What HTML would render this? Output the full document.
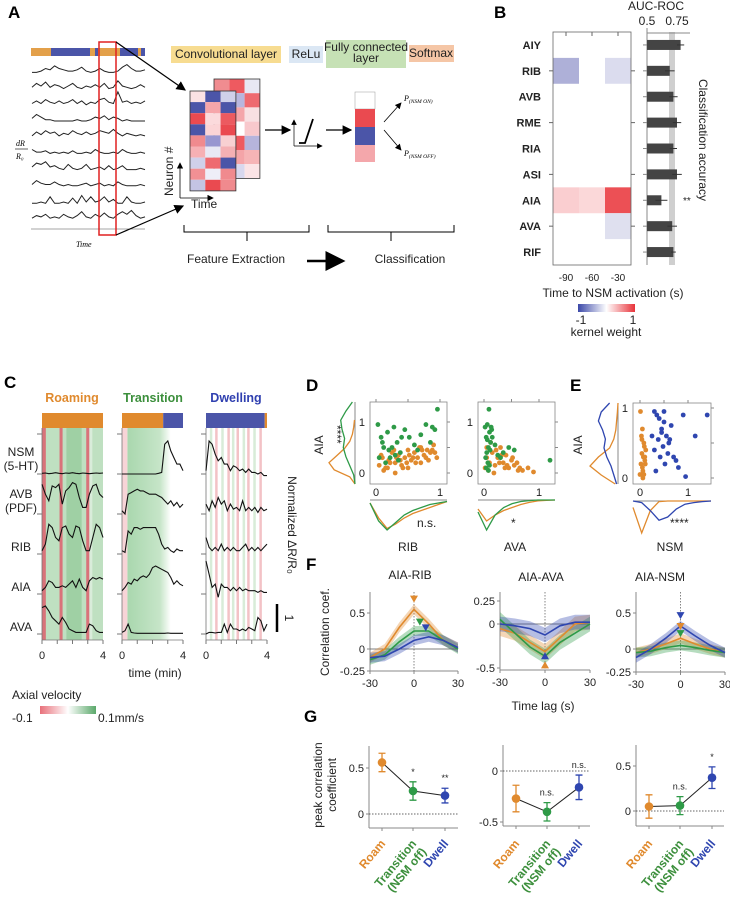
<!DOCTYPE html>
<html><head><meta charset="utf-8">
<style>
body{margin:0;background:#fff;}
svg{display:block;font-family:"Liberation Sans",Arial,sans-serif;}
.pl{font-weight:bold;font-size:17px;}
.t{font-size:12px;fill:#222;}
.s{font-size:11px;fill:#222;}
</style></head>
<body>
<svg id="fig" width="730" height="901" viewBox="0 0 730 901" xmlns="http://www.w3.org/2000/svg">
<defs>
<linearGradient id="kw" x1="0" x2="1"><stop offset="0" stop-color="#3b48a8"/><stop offset="0.5" stop-color="#fff"/><stop offset="1" stop-color="#e8333a"/></linearGradient>
<linearGradient id="av" x1="0" x2="1"><stop offset="0" stop-color="#e8707a"/><stop offset="0.5" stop-color="#fff"/><stop offset="1" stop-color="#5aa86a"/></linearGradient>
<linearGradient id="trg" x1="0" x2="1"><stop offset="0" stop-color="#a9d7ae"/><stop offset="0.75" stop-color="#c6e5c8"/><stop offset="1" stop-color="#fff"/></linearGradient>
<marker id="ah" markerWidth="8" markerHeight="8" refX="7" refY="4" orient="auto"><path d="M0,0 L8,4 L0,8 z" fill="#000"/></marker>
</defs>

<text class="pl" x="8" y="18">A</text>
<text class="pl" x="494" y="18">B</text>
<text class="pl" x="4" y="388">C</text>
<text class="pl" x="306" y="391">D</text>
<text class="pl" x="570" y="391">E</text>
<text class="pl" x="306" y="570">F</text>
<text class="pl" x="304" y="722">G</text>

<g>
<g id="aTraces"></g>
<rect x="31" y="48" width="114" height="8" fill="#e3a04a"/>
<rect x="51" y="48" width="39" height="8" fill="#4b55a8"/>
<rect x="95" y="48" width="3" height="8" fill="#4b55a8"/>
<rect x="120" y="48" width="18" height="8" fill="#4b55a8"/>
<rect x="141" y="48" width="4" height="8" fill="#4b55a8"/>
<line x1="31" y1="229" x2="145" y2="229" stroke="#888" stroke-width="0.8"/>
<rect x="99" y="42" width="17" height="193" fill="none" stroke="#e02020" stroke-width="1.5"/>
<line x1="116" y1="42" x2="185" y2="90" stroke="#000" stroke-width="1.2" marker-end="url(#ah)"/>
<line x1="116" y1="235" x2="183" y2="206" stroke="#000" stroke-width="1.2" marker-end="url(#ah)"/>
<text x="76" y="247" font-size="8" font-style="italic" font-family="Liberation Serif">Time</text>
<text x="16" y="146" font-size="8" font-style="italic" font-family="Liberation Serif">dR</text>
<line x1="15" y1="149" x2="28" y2="149" stroke="#000" stroke-width="0.6"/>
<text x="16" y="159" font-size="8" font-style="italic" font-family="Liberation Serif">R₀</text>
<rect x="171" y="46" width="110" height="17" fill="#f7dc91"/>
<text x="226" y="58" font-size="8" text-anchor="middle" class="t">Convolutional layer</text>
<rect x="289" y="46" width="34" height="17" fill="#dbe7f4"/>
<text x="306" y="58" font-size="8" text-anchor="middle" class="t">ReLu</text>
<rect x="326" y="40" width="80" height="28" fill="#c6e1b5"/>
<text x="366" y="51" font-size="7.5" text-anchor="middle" class="t">Fully connected</text>
<text x="366" y="62" font-size="7.5" text-anchor="middle" class="t">layer</text>
<rect x="409" y="45" width="45" height="17" fill="#f5c6a6"/>
<text x="431" y="57" font-size="8" text-anchor="middle" class="t">Softmax</text>
<g id="mats"></g>
<line x1="180" y1="198" x2="180" y2="163" stroke="#000" stroke-width="0.8" marker-end="url(#ah)"/>
<line x1="180" y1="198" x2="213" y2="198" stroke="#000" stroke-width="0.8" marker-end="url(#ah)"/>
<text x="173" y="196" font-size="7" transform="rotate(-90 173 196)" class="t">Neuron #</text>
<text x="191" y="208" font-size="7" class="t">Time</text>
<line x1="265" y1="130" x2="290" y2="130" stroke="#000" stroke-width="1.2" marker-end="url(#ah)"/>
<g stroke="#000" fill="none">
<line x1="294" y1="146" x2="322" y2="146" stroke-width="0.7" marker-end="url(#ah)"/>
<line x1="294" y1="146" x2="294" y2="120" stroke-width="0.7" marker-end="url(#ah)"/>
<polyline points="299,143 305,143 313,119" stroke-width="1.8"/>
</g>
<line x1="326" y1="130" x2="351" y2="130" stroke="#000" stroke-width="1.2" marker-end="url(#ah)"/>
<g>
<rect x="355" y="92" width="20" height="17" fill="#fff" stroke="#999" stroke-width="0.5"/>
<rect x="355" y="109" width="20" height="18" fill="#ea4a50"/>
<rect x="355" y="127" width="20" height="18" fill="#4b55a8"/>
<rect x="355" y="145" width="20" height="17" fill="#f4a7ab"/>
</g>
<line x1="384" y1="122" x2="401" y2="103" stroke="#000" stroke-width="0.8" marker-end="url(#ah)"/>
<line x1="384" y1="130" x2="401" y2="150" stroke="#000" stroke-width="0.8" marker-end="url(#ah)"/>
<text x="404" y="101" font-size="8" font-style="italic" font-family="Liberation Serif">P<tspan font-size="5.5" dy="2">(NSM ON)</tspan></text>
<text x="404" y="156" font-size="8" font-style="italic" font-family="Liberation Serif">P<tspan font-size="5.5" dy="2">(NSM OFF)</tspan></text>
<path d="M184,225 v7 h125 v-7 M247,232 v9" stroke="#000" fill="none" stroke-width="1"/>
<path d="M328,225 v7 h126 v-7 M391,232 v9" stroke="#000" fill="none" stroke-width="1"/>
<text x="187" y="263" font-size="10" class="t">Feature Extraction</text>
<line x1="307" y1="261" x2="343" y2="261" stroke="#000" stroke-width="2.5" marker-end="url(#ah)"/>
<text x="410" y="263" font-size="10" text-anchor="middle" class="t">Classification</text>
</g>

<g id="panelB">
<text x="656" y="10" font-size="9" text-anchor="middle" class="t">AUC-ROC</text>
<text x="647" y="25" font-size="9" text-anchor="middle" class="t">0.5</text>
<text x="677" y="25" font-size="9" text-anchor="middle" class="t">0.75</text>
<text x="613" y="297" font-size="11" text-anchor="middle" class="t">Time to NSM activation (s)</text>
<text x="699" y="140" font-size="11" text-anchor="middle" transform="rotate(90 699 140)" class="t">Classification accuracy</text>
<rect x="578" y="304" width="57" height="8" fill="url(#kw)"/>
<text x="581" y="324" font-size="9" text-anchor="middle" class="t">-1</text>
<text x="633" y="324" font-size="9" text-anchor="middle" class="t">1</text>
<text x="606" y="336" font-size="10" text-anchor="middle" class="t">kernel weight</text>
</g>

<g id="panelC">
<text x="72" y="402" font-size="12.5" font-weight="bold" fill="#e08a2e" text-anchor="middle">Roaming</text>
<text x="153" y="402" font-size="12.5" font-weight="bold" fill="#3c8f3c" text-anchor="middle">Transition</text>
<text x="236" y="402" font-size="12.5" font-weight="bold" fill="#3040b0" text-anchor="middle">Dwelling</text>
<text x="21" y="456" font-size="10" text-anchor="middle" class="t">NSM</text>
<text x="21" y="470" font-size="10" text-anchor="middle" class="t">(5-HT)</text>
<text x="21" y="498" font-size="10" text-anchor="middle" class="t">AVB</text>
<text x="21" y="512" font-size="10" text-anchor="middle" class="t">(PDF)</text>
<text x="21" y="551" font-size="10" text-anchor="middle" class="t">RIB</text>
<text x="21" y="591" font-size="10" text-anchor="middle" class="t">AIA</text>
<text x="21" y="631" font-size="10" text-anchor="middle" class="t">AVA</text>
<text x="155" y="677" font-size="10" text-anchor="middle" class="t">time (min)</text>
<line x1="277" y1="604" x2="277" y2="632" stroke="#000" stroke-width="2.5"/>
<text x="285" y="618" font-size="10" transform="rotate(90 285 618)" text-anchor="middle" class="t">1</text>
<text x="288" y="525" font-size="11" text-anchor="middle" transform="rotate(90 288 525)" class="t">Normalized ΔR/R₀</text>
<text x="12" y="699" font-size="10" class="t">Axial velocity</text>
<rect x="40" y="706" width="56" height="8" fill="url(#av)"/>
<text x="12" y="722" font-size="9" class="t">-0.1</text>
<text x="98" y="722" font-size="9" class="t">0.1mm/s</text>
</g>

<g id="panelDE">
<text x="408" y="551" font-size="11" text-anchor="middle" class="t">RIB</text>
<text x="515" y="551" font-size="11" text-anchor="middle" class="t">AVA</text>
<text x="670" y="551" font-size="11" text-anchor="middle" class="t">NSM</text>
<text x="323" y="445" font-size="11" transform="rotate(-90 323 445)" text-anchor="middle" class="t">AIA</text>
<text x="582" y="445" font-size="11" transform="rotate(-90 582 445)" text-anchor="middle" class="t">AIA</text>
<text x="333" y="425" font-size="9" transform="rotate(90 333 425)" class="t">****</text>
<text x="417" y="527" font-size="9" class="t">n.s.</text>
<text x="511" y="527" font-size="9" class="t">*</text>
<text x="670" y="527" font-size="9" class="t">****</text>
</g>

<g id="panelF">
<text x="410" y="579" font-size="10.5" text-anchor="middle" class="t">AIA-RIB</text>
<text x="541" y="581" font-size="10.5" text-anchor="middle" class="t">AIA-AVA</text>
<text x="660" y="581" font-size="10.5" text-anchor="middle" class="t">AIA-NSM</text>
<text x="329" y="632" font-size="11" transform="rotate(-90 329 632)" text-anchor="middle" class="t">Correlation coef.</text>
<text x="543" y="710" font-size="11" text-anchor="middle" class="t">Time lag (s)</text>
</g>

<g id="panelG">
<text x="322" y="785" font-size="10" transform="rotate(-90 322 785)" text-anchor="middle" class="t">peak correlation</text>
<text x="336" y="785" font-size="10" transform="rotate(-90 336 785)" text-anchor="middle" class="t">coefficient</text>
</g>
</svg>

<script>
const NS="http://www.w3.org/2000/svg";
const svg=document.getElementById('fig');
function mk(tag,attrs,parent){const e=document.createElementNS(NS,tag);for(const k in attrs)e.setAttribute(k,attrs[k]);(parent||svg).appendChild(e);return e;}
function txt(x,y,s,attrs,parent){const e=mk('text',Object.assign({x:x,y:y,'font-size':10,fill:'#222'},attrs||{}),parent);e.textContent=s;return e;}
const OR="#e08a2e",GR="#2e9a47",BL="#2f46b0";

const aTraceData=[
[2,2,3,5,4,7,5,4,3,3,4,6,3,2,3,5,3,2,2,3,6,8,5,3,3,4],
[3,6,4,7,3,5,4,2,4,6,3,2,4,3,5,3,6,2,3,8,4,3,2,3,5,3],
[3,5,3,6,4,3,5,3,4,6,3,5,2,4,3,6,7,4,3,12,4,5,3,4,3,5],
[4,7,5,3,3,2,2,2,2,2,3,2,2,3,5,4,6,3,5,4,2,3,2,2,2,2],
[3,6,4,7,5,6,3,5,4,7,5,4,6,4,5,7,6,5,8,5,3,5,4,3,4,3],
[5,3,3,4,2,3,2,3,2,4,2,2,3,2,5,3,2,2,3,2,5,3,2,2,3,2],
[4,7,6,8,4,5,3,2,6,3,2,3,6,2,3,4,2,5,2,3,5,2,2,2,3,2],
[3,6,4,3,3,5,3,2,3,2,2,3,4,2,3,4,2,3,2,5,3,2,2,2,3,2],
[1,1,2,1,6,1,1,2,1,5,1,7,2,6,2,3,6,2,4,1,1,6,2,1,1,2],
[2,4,3,5,2,3,2,5,3,2,4,7,3,2,5,3,6,3,2,5,7,5,8,4,2,3]];
const aG=document.getElementById('aTraces');
aTraceData.forEach((arr,i)=>{
  const base=75+i*16.2;
  const pts=arr.map((v,j)=>(32+j*113/(arr.length-1)).toFixed(1)+','+(base-v*1.3).toFixed(1)).join(' ');
  const p=mk('polyline',{points:pts,fill:'none',stroke:'#222','stroke-width':1},aG);
  
  
});
const backMat=[["#f08c90","#ee5a60","#e8e8f4"],["#f6b0b4","#b8b6de","#ee6a70"],["#f6b6b8","#f4a6aa","#f8e0e2"],["#f8c8ca","#fff","#f8c8cc"],["#f4a4a8","#ee5a60","#b6b4dc"],["#f8c0c2","#f4a4a8","#f6b4b6"],["#f8d0d2","#d8d8ee","#fbe4e6"]];
const frontMat=[["#fbe2e4","#4b55a8","#d0d0ea"],["#4b55a8","#f6a6aa","#4b55a8"],["#ea4a50","#fbdadc","#ec5a60"],["#4b55a8","#fbd4d6","#ea4a50"],["#f08a8e","#9896d0","#f8d0d2"],["#f6b0b4","#e8e8f4","#f4b0b4"],["#d0d0ea","#ee6a70","#4b55a8"],["#f29094","#eeeef8","#f08a8e"],["#c4c4e4","#ea4a50","#f08a8e"]];
const mG=document.getElementById('mats');
function drawMat(m,x0,y0,cw,ch){
  m.forEach((row,r)=>row.forEach((c,k)=>{mk('rect',{x:x0+k*cw,y:y0+r*ch,width:cw,height:ch,fill:c},mG);}));
  mk('rect',{x:x0,y:y0,width:cw*3,height:ch*m.length,fill:'none',stroke:'#333','stroke-width':0.8},mG);
}
drawMat(backMat,214,79,15.3,14.2);
drawMat(frontMat,190,91,15.3,11.1);

const neurons=["AIY","RIB","AVB","RME","RIA","ASI","AIA","AVA","RIF"];
const lagLabels=["-90","-60","-30"];
const kernelRIB=[-0.45,0,-0.2];
const kernelAIA=[0.25,0.2,0.9];
const kernelAVA=[0,0,-0.18];
const kernelRows={RIB:kernelRIB,AIA:kernelAIA,AVA:kernelAVA};
const aucVals=[0.78,0.69,0.72,0.75,0.72,0.75,0.62,0.71,0.72];
const aucErr=[0.03,0.04,0.035,0.035,0.03,0.04,0.05,0.04,0.02];
const pB=document.getElementById('panelB');
const hx0=553,hx1=631,hy0=32,hy1=265;
const rowH=(hy1-hy0)/neurons.length, colW=(hx1-hx0)/3;
const rowY=i=>hy0+rowH*(i+0.5);
function kcol(v){const a=Math.abs(v);const t=[255,255,255];const c=v>0?[234,60,66]:[75,80,168];
 return 'rgb('+t.map((x,i)=>Math.round(x+(c[i]-x)*a)).join(',')+')';}
neurons.forEach((n,i)=>{
  const r=kernelRows[n];
  if(r) r.forEach((v,k)=>{if(v!==0){const c=mk('rect',{x:hx0+k*colW,y:hy0+rowH*i,width:colW,height:rowH,fill:kcol(v)},pB);}});
  const t=txt(hx0-12,rowY(i)+4,n,{'font-size':11,'font-weight':'bold','text-anchor':'end'},pB);
  
});
mk('rect',{x:hx0,y:hy0,width:hx1-hx0,height:hy1-hy0,fill:'none',stroke:'#666','stroke-width':0.8},pB);
[1,3,5,7].forEach(i=>{mk('line',{x1:hx0-4,x2:hx0,y1:rowY(i),y2:rowY(i),stroke:'#666'},pB);mk('line',{x1:hx1,x2:hx1+4,y1:rowY(i),y2:rowY(i),stroke:'#666'},pB);});
lagLabels.forEach((l,k)=>{const x=hx0+colW*(k+0.5);mk('line',{x1:x,x2:x,y1:hy0,y2:hy0+4,stroke:'#666'},pB);txt(x,281,l,{'font-size':10,'text-anchor':'middle'},pB);});
const aucX=v=>647+(v-0.5)*120;
mk('rect',{x:669,y:32,width:6,height:233,fill:'#cfcfcf'},pB);
mk('line',{x1:647,x2:690,y1:33,y2:33,stroke:'#888'},pB);
mk('line',{x1:647,x2:647,y1:28,y2:265,stroke:'#888'},pB);
aucVals.forEach((v,i)=>{
  const y=rowY(i);
  const b=mk('rect',{x:647,y:y-5,width:aucX(v)-647,height:10,fill:'#444'},pB);
  
  mk('line',{x1:aucX(v-aucErr[i]),x2:aucX(v+aucErr[i]),y1:y,y2:y,stroke:'#333','stroke-width':1},pB);
  mk('line',{x1:643,x2:647,y1:y,y2:y,stroke:'#888'},pB);
});
txt(683,204,"**",{'font-size':10},pB);

const traceNames=["NSM","AVB","RIB","AIA","AVA"];
const roamTraces=[
[0.02,0.03,0.01,0.02,0.04,0.02,0.01,0.03,0.02,0.04,0.02,0.01,0.03,0.02,0.01,0.02,0.03,0.02,0.03],
[0.9,0.6,0.4,0.85,0.8,0.9,0.3,0.7,0.8,0.95,0.9,0.5,0.2,0.2,0.6,0.85,0.9,0.6,0.5],
[0.1,0.3,0.9,0.8,0.5,0.4,0.8,0.85,0.6,0.5,0.85,0.8,0.4,0.1,0.1,0.5,0.9,0.8,0.5],
[0.1,0.2,0.4,0.35,0.2,0.2,0.25,0.2,0.3,0.4,0.2,0.45,0.2,0.1,0.4,0.5,0.45,0.5,0.45],
[0.8,0.85,0.7,0.5,0.4,0.3,0.5,0.35,0.15,0.1,0.05,0.05,0.05,0.05,0.3,0.25,0.1,0.05,0.05]];
const transTraces=[
[0,0,0,0,0,0,0,0,0,0,0,0,0.02,0.05,0.9,1,0.7,0.5,0.3,0.3,0.1],
[0.1,0,0.6,0.65,0.7,0.75,0.7,0.7,0.65,0.6,0.6,0.6,0.55,0.5,0.4,0.3,0.4,0.25,0.35,0.2,0.3],
[0.1,0.05,0.7,0.6,0.8,0.8,0.75,0.8,0.8,0.8,0.8,0.8,0.6,0.3,0.15,0.2,0.1,0.05,0.15,0.1,0.1],
[0.1,0.2,0.35,0.3,0.45,0.4,0.5,0.55,0.5,0.6,0.8,0.85,0.8,0.75,0.7,0.65,0.5,0.3,0.4,0.3,0.25],
[0.05,0.1,0.3,0.05,0.03,0.02,0.02,0.02,0.02,0.02,0.02,0.02,0.02,0.02,0.02,0.03,0.02,0.02,0.02,0.02,0.02]];
const dwellTraces=[
[0.1,1,0.9,0.6,0.4,0.5,0.3,0.3,0.1,0.25,0.2,0.1,0.15,0.05,0.15,0.05,0.05,0.0,0.05,-0.05,-0.05],
[0.3,0.1,0.4,0.2,0.5,0.3,0.4,0.1,0.3,0.15,0.2,0.1,0.4,0.1,0.2,0.1,0.2,0.05,0.2,0.1,0.15],
[0.5,0.2,0.1,0.2,0.1,0.3,0.1,0.2,0.1,0.2,0.1,0.1,0.2,0.3,0.1,0.2,0.1,0.2,0.1,0.2,0.3],
[1,0.6,0.2,0.3,-0.1,0.3,0.2,0.2,0.1,0.2,0.1,0.2,0.1,0.15,0.1,0.1,0.1,0.05,0.1,0.05,0.05],
[0,0.05,0.05,0.03,0.05,0.05,0.3,0.05,0.3,0.15,0.15,0.1,0.15,0.1,0.2,0.15,0.1,0.5,0.4,0.1,0.3]];
const cPanels=[
 {x0:42,x1:103,tr:roamTraces,bars:[[0,4,OR]],bg:'roam'},
 {x0:122,x1:183,tr:transTraces,bars:[[0,2.7,OR],[2.7,4,'#4b55a8']],bg:'trans'},
 {x0:206,x1:267,tr:dwellTraces,bars:[[0,3.85,'#4b55a8'],[3.85,4,OR]],bg:'dwell'}];
const baselines=[474,514,554,594,634];
const pC=document.getElementById('panelC');
cPanels.forEach(p=>{
  const X=t=>p.x0+(p.x1-p.x0)*t/4;
  if(p.bg==='roam'){
    mk('rect',{x:p.x0,y:428,width:p.x1-p.x0,height:212,fill:'#bfe0c1'},pC);
    [[0.1,0.25,'#a8d4ab'],[1.6,2.6,'#9fd0a4'],[3,3.3,'#d9ecda']].forEach(s=>mk('rect',{x:X(s[0]),y:428,width:X(s[1])-X(s[0]),height:212,fill:s[2]},pC));
    [[0,0.25],[1.15,1.35],[2.9,3.1]].forEach(s=>mk('rect',{x:X(s[0]),y:428,width:X(s[1])-X(s[0]),height:212,fill:'#d9737a'},pC));
  } else if(p.bg==='trans'){
    mk('rect',{x:X(0.35),y:428,width:X(3.2)-X(0.35),height:212,fill:'url(#trg)'},pC);
    mk('rect',{x:X(0),y:428,width:X(0.35)-X(0),height:212,fill:'#f7d4d7'},pC);
  } else {
    [0.25,0.6,1.0,1.4,1.7,2.0,2.4,2.7,3.1,3.5].forEach((t,i)=>mk('rect',{x:X(t),y:428,width:2.5,height:212,fill:i%2?'#f3c2c6':'#d8ecd8'},pC));
  }
  p.bars.forEach(b=>mk('rect',{x:X(b[0]),y:413,width:X(b[1])-X(b[0]),height:15,fill:b[2]},pC));
  mk('line',{x1:p.x0,x2:p.x0,y1:428,y2:640,stroke:'#777','stroke-width':0.8},pC);
  [434].concat(baselines).forEach(y=>mk('line',{x1:p.x0-5,x2:p.x0,y1:y,y2:y,stroke:'#777'},pC));
  mk('line',{x1:p.x0,x2:p.x1,y1:640,y2:640,stroke:'#777','stroke-width':0.8},pC);
  [0,1,2,3,4].forEach(t=>mk('line',{x1:X(t),x2:X(t),y1:640,y2:644,stroke:'#777'},pC));
  txt(X(0),659,"0",{'font-size':11,'text-anchor':'middle'},pC);
  txt(X(4),659,"4",{'font-size':11,'text-anchor':'middle'},pC);
  p.tr.forEach((arr,k)=>{
    const pts=arr.map((v,j)=>X(4*j/(arr.length-1)).toFixed(1)+','+(baselines[k]-v*33).toFixed(1)).join(' ');
    const l=mk('polyline',{points:pts,fill:'none',stroke:'#111','stroke-width':1.1},pC);
    
    
  });
});

const pDE=document.getElementById('panelDE');
const ribOrangeX=[0.05,0.1,0.15,0.2,0.25,0.3,0.35,0.4,0.45,0.5,0.55,0.6,0.65,0.7,0.75,0.8,0.85,0.9,0.95,0.12,0.22,0.32,0.42,0.52,0.62,0.72,0.82,0.92,0.08,0.18,0.28,0.38,0.48,0.58,0.68,0.78,0.88,0.3,0.5,0.7];
const ribOrangeY=[0.15,0.3,0.1,0.25,0.4,0.2,0.35,0.15,0.3,0.45,0.25,0.4,0.3,0.5,0.35,0.45,0.4,0.55,0.3,0.05,0.2,0.3,0.1,0.35,0.2,0.45,0.25,0.4,0.35,0.1,0.45,0.25,0.2,0.3,0.5,0.3,0.45,0.0,0.1,0.2];
const ribGreenX=[0.03,0.08,0.12,0.18,0.22,0.28,0.33,0.38,0.45,0.52,0.6,0.7,0.78,0.85,0.92,0.96,0.05,0.15,0.25,0.35,0.1,0.2,0.3,0.4,0.65,0.88];
const ribGreenY=[0.95,0.7,0.5,0.8,0.3,0.9,0.6,0.4,0.85,0.7,0.55,0.75,0.95,0.6,0.85,1.25,0.3,0.2,0.5,0.25,0.6,0.45,0.35,0.7,0.45,0.9];
const avaOrangeX=[0.02,0.05,0.08,0.1,0.15,0.2,0.25,0.3,0.35,0.4,0.45,0.5,0.55,0.6,0.65,0.7,0.8,0.9,0.12,0.22,0.32,0.42,0.52,0.62,0.05,0.18,0.28,0.38];
const avaOrangeY=[0.1,0.3,0.05,0.2,0.4,0.15,0.3,0.5,0.2,0.35,0.1,0.25,0.15,0.2,0.1,0.05,0.1,0.02,0.6,0.45,0.35,0.15,0.3,0.05,0.5,0.0,0.2,0.1];
const avaGreenX=[0.02,0.04,0.06,0.08,0.1,0.12,0.14,0.03,0.05,0.07,0.09,0.11,0.15,0.2,0.25,0.3,0.06,0.1,0.13,0.35,0.45,0.55,1.2,0.08,0.04];
const avaGreenY=[0.9,0.7,0.95,0.5,0.8,0.6,0.85,0.3,0.4,0.2,1.25,0.45,0.7,0.55,0.35,0.3,0.65,0.15,0.9,0.4,0.5,0.45,0.25,0.05,0.1];
const nsmOrangeX=[0.0,0.02,0.04,0.06,0.08,0.1,0.12,0.03,0.05,0.07,0.09,0.11,0.01,0.05,0.08,0.04,0.1,0.06];
const nsmOrangeY=[0.05,0.2,0.35,0.1,0.5,0.25,0.4,0.6,0.15,0.3,0.45,0.2,0.95,0.7,0.05,0.55,0.3,0.0];
const nsmBlueX=[0.3,0.35,0.4,0.45,0.5,0.55,0.6,0.65,0.3,0.38,0.42,0.48,0.52,0.58,0.7,0.8,0.9,0.95,1.15,1.4,0.25,0.33,0.45,0.62,0.75,0.5];
const nsmBlueY=[0.95,0.9,0.85,0.7,0.8,0.6,0.5,0.75,0.4,0.55,0.3,0.45,0.2,0.35,0.3,0.15,0.9,0.02,0.6,0.9,0.6,0.1,0.65,0.55,0.25,0.95];
function scatter(box,ax,sets){
  mk('rect',{x:box.x,y:box.y,width:box.w,height:box.h,fill:'none',stroke:'#888','stroke-width':0.8},pDE);
  const X=v=>ax.x0+(ax.x1-ax.x0)*v, Y=v=>ax.y0-(ax.y0-ax.y1)*v;
  sets.forEach(s=>s.x.forEach((v,i)=>{const c=mk('circle',{cx:X(v),cy:Y(s.y[i]),r:2.4,fill:s.c},pDE);}));
  txt(X(0),box.y+box.h+12,"0",{'font-size':11,'text-anchor':'middle'},pDE);
  txt(X(1),box.y+box.h+12,"1",{'font-size':11,'text-anchor':'middle'},pDE);
  txt(box.x-5,Y(0)+4,"0",{'font-size':11,'text-anchor':'end'},pDE);
  txt(box.x-5,Y(1)+4,"1",{'font-size':11,'text-anchor':'end'},pDE);
  [0,0.5,1].forEach(v=>{mk('line',{x1:X(v),x2:X(v),y1:box.y-3,y2:box.y,stroke:'#888'},pDE);mk('line',{x1:box.x+box.w,x2:box.x+box.w+3,y1:Y(v),y2:Y(v),stroke:'#888'},pDE);});
}
scatter({x:370,y:402,w:77,h:82},{x0:376,x1:440,y0:473,y1:422},[{x:ribOrangeX,y:ribOrangeY,c:OR},{x:ribGreenX,y:ribGreenY,c:GR}]);
scatter({x:478,y:402,w:77,h:82},{x0:484,x1:539,y0:473,y1:422},[{x:avaOrangeX,y:avaOrangeY,c:OR},{x:avaGreenX,y:avaGreenY,c:GR}]);
scatter({x:633,y:403,w:78,h:81},{x0:640,x1:688,y0:478,y1:408},[{x:nsmOrangeX,y:nsmOrangeY,c:OR},{x:nsmBlueX,y:nsmBlueY,c:BL}]);
const ribAIAOr=[0,0.2,0.8,1,0.7,0.4,0.2,0.1,0.05,0.02];
const ribAIAGr=[0,0.05,0.2,0.35,0.45,0.4,0.5,0.55,0.35,0.1];
const ribOr=[0.1,0.6,0.95,0.8,0.6,0.45,0.35,0.25,0.15,0.05];
const ribGr=[0.1,0.7,1,0.75,0.5,0.35,0.25,0.15,0.1,0.05];
const avaOr=[0.3,0.7,0.5,0.35,0.25,0.15,0.08,0.03,0.01,0];
const avaGr=[0.4,1,0.5,0.25,0.12,0.05,0.02,0,0,0];
const nsmAIAOr=[0.1,0.6,1,0.7,0.3,0.15,0.08,0.05,0.02,0];
const nsmAIABl=[0.05,0.15,0.25,0.4,0.5,0.45,0.55,0.7,0.6,0.3];
const nsmOr=[0.2,1,0.3,0.02,0,0,0,0,0,0];
const nsmBl=[0,0.05,0.3,0.6,0.5,0.25,0.1,0.05,0.02,0];
function vDens(arr,x,y0,y1,amp,c){const pts=arr.map((v,i)=>(x-v*amp).toFixed(1)+','+(y0+(y1-y0)*i/(arr.length-1)).toFixed(1)).join(' ');const l=mk('polyline',{points:pts,fill:'none',stroke:c,'stroke-width':1.3},pDE);}
function hDens(arr,y,x0,x1,amp,c){const pts=arr.map((v,i)=>(x0+(x1-x0)*i/(arr.length-1)).toFixed(1)+','+(y+v*amp).toFixed(1)).join(' ');const l=mk('polyline',{points:pts,fill:'none',stroke:c,'stroke-width':1.3},pDE);}
mk('line',{x1:355,x2:355,y1:402,y2:484,stroke:'#888'},pDE);
vDens(ribAIAOr,355,484,420,26,OR);vDens(ribAIAGr,355,484,402,26,GR);
mk('line',{x1:370,x2:447,y1:500,y2:500,stroke:'#888'},pDE);
hDens(ribOr,500,370,447,30,OR);hDens(ribGr,500,370,447,30,GR);
mk('line',{x1:478,x2:555,y1:500,y2:500,stroke:'#888'},pDE);
hDens(avaOr,500,478,555,30,OR);hDens(avaGr,500,478,555,30,GR);
mk('line',{x1:618,x2:618,y1:403,y2:484,stroke:'#888'},pDE);
vDens(nsmAIAOr,618,484,403,28,OR);vDens(nsmAIABl,618,484,403,28,BL);
mk('line',{x1:633,x2:711,y1:501,y2:501,stroke:'#888'},pDE);
hDens(nsmOr,501,633,711,32,OR);hDens(nsmBl,501,633,711,32,BL);

const lags=[-30,-20,-10,0,10,20,30];
const ribOrange=[-0.12,0.0,0.3,0.55,0.35,0.12,0.02];
const ribGreen=[-0.15,-0.08,0.1,0.25,0.25,0.12,0.0];
const ribBlue=[-0.12,-0.1,0.0,0.12,0.17,0.12,0.02];
const avaOrangeF=[-0.05,-0.1,-0.2,-0.3,-0.15,0.0,0.02];
const avaGreenF=[0.05,-0.1,-0.25,-0.35,-0.2,-0.1,0.0];
const avaBlueF=[0,-0.02,-0.05,-0.12,-0.02,0.02,0.02];
const nsmOrangeF=[-0.05,0,0.07,0.15,0.07,0,-0.05];
const nsmGreenF=[-0.05,-0.03,0.02,0.05,0.02,-0.02,-0.05];
const nsmBlueF=[-0.12,0.0,0.15,0.32,0.18,0.05,-0.05];
const fPeaks=[
 [[0,0.7,OR,'down'],[4,0.38,GR,'down'],[8,0.3,BL,'down']],
 [[0,-0.45,OR,'up'],[0,-0.35,BL,'up']],
 [[0,0.47,BL,'down'],[0,0.32,OR,'down'],[0,0.22,GR,'down']]];
const pF=document.getElementById('panelF');
const fPlots=[
 {x0:370,x1:458,yTop:592,yBot:671,ticks:[[0.5,613],[0,649],[-0.25,671]],lab:["0.5","0","-0.25"],s:[[ribOrange,OR],[ribGreen,GR],[ribBlue,BL]],band:0.07},
 {x0:500,x1:590,yTop:592,yBot:670,ticks:[[0.25,601],[0,624],[-0.5,668]],lab:["0.25","0","-0.5"],s:[[avaOrangeF,OR],[avaGreenF,GR],[avaBlueF,BL]],band:0.08},
 {x0:636,x1:725,yTop:592,yBot:672,ticks:[[0.5,613],[0,649],[-0.25,672]],lab:["0.5","0","-0.25"],s:[[nsmOrangeF,OR],[nsmGreenF,GR],[nsmBlueF,BL]],band:0.07}];
fPlots.forEach((p,pi)=>{
  const t=p.ticks, k=(t[0][1]-t[1][1])/(t[0][0]-t[1][0]);
  const Y=v=>t[1][1]+(v-t[1][0])*k, X=l=>p.x0+(p.x1-p.x0)*(l+30)/60;
  mk('line',{x1:p.x0,x2:p.x0,y1:p.yTop,y2:p.yBot,stroke:'#888'},pF);
  mk('line',{x1:p.x0,x2:p.x1,y1:p.yBot,y2:p.yBot,stroke:'#888'},pF);
  mk('line',{x1:p.x0,x2:p.x1,y1:Y(0),y2:Y(0),stroke:'#555','stroke-width':0.8},pF);
  mk('line',{x1:X(0),x2:X(0),y1:p.yTop,y2:p.yBot,stroke:'#666','stroke-dasharray':'1.5,1.5','stroke-width':0.8},pF);
  t.forEach((tk,i)=>{mk('line',{x1:p.x0-3,x2:p.x0,y1:tk[1],y2:tk[1],stroke:'#888'},pF);txt(p.x0-5,tk[1]+4,p.lab[i],{'font-size':11,'text-anchor':'end'},pF);});
  [-30,0,30].forEach(l=>{mk('line',{x1:X(l),x2:X(l),y1:p.yBot,y2:p.yBot+3,stroke:'#888'},pF);txt(X(l),p.yBot+16,String(l),{'font-size':11,'text-anchor':'middle'},pF);});
  p.s.forEach(([arr,c])=>{
    const up=arr.map((v,i)=>X(lags[i]).toFixed(1)+','+Y(v+p.band).toFixed(1));
    const dn=arr.map((v,i)=>X(lags[i]).toFixed(1)+','+Y(v-p.band).toFixed(1)).reverse();
    mk('polygon',{points:up.concat(dn).join(' '),fill:c,'fill-opacity':0.35},pF);
  });
  p.s.forEach(([arr,c])=>{
    const l=mk('polyline',{points:arr.map((v,i)=>X(lags[i]).toFixed(1)+','+Y(v).toFixed(1)).join(' '),fill:'none',stroke:c,'stroke-width':1.6},pF);
    
  });
  fPeaks[pi].forEach(([l,v,c,d])=>{const x=X(l),y=Y(v);
    const pts=d==='down'?`${x-4},${y-3} ${x+4},${y-3} ${x},${y+4}`:`${x-4},${y+3} ${x+4},${y+3} ${x},${y-4}`;
    const m=mk('polygon',{points:pts,fill:c},pF);});
});

const gCats=["Roam","Transition","Dwell"];
const ribPeak=[0.56,0.25,0.2], ribPeakErr=[0.1,0.1,0.08], ribSig=["","*","**"];
const avaPeak=[-0.27,-0.4,-0.16], avaPeakErr=[0.13,0.09,0.12], avaSig=["","n.s.","n.s."];
const nsmPeak=[0.05,0.06,0.37], nsmPeakErr=[0.13,0.1,0.12], nsmSig=["","n.s.","*"];
const pG=document.getElementById('panelG');
const gPlots=[
 {x0:369,x1:458,yTop:746,yBot:828,ticks:[[0.5,768],[0,814]],lab:["0.5","0"],v:ribPeak,e:ribPeakErr,sig:ribSig,xs:[382,413,445]},
 {x0:503,x1:590,yTop:745,yBot:826,ticks:[[0,771],[-0.5,822]],lab:["0","-0.5"],v:avaPeak,e:avaPeakErr,sig:avaSig,xs:[516,547,579]},
 {x0:636,x1:724,yTop:745,yBot:826,ticks:[[0.5,766],[0,811]],lab:["0.5","0"],v:nsmPeak,e:nsmPeakErr,sig:nsmSig,xs:[649,680,712]}];
const gCol=[OR,GR,BL];
gPlots.forEach(p=>{
  const t=p.ticks,k=(t[0][1]-t[1][1])/(t[0][0]-t[1][0]);
  const Y=v=>t[1][1]+(v-t[1][0])*k;
  mk('line',{x1:p.x0,x2:p.x0,y1:p.yTop,y2:p.yBot,stroke:'#888'},pG);
  mk('line',{x1:p.x0,x2:p.x1,y1:p.yBot,y2:p.yBot,stroke:'#888'},pG);
  mk('line',{x1:p.x0,x2:p.x1,y1:Y(0),y2:Y(0),stroke:'#333','stroke-dasharray':'1.5,1.5','stroke-width':0.8},pG);
  t.forEach((tk,i)=>{mk('line',{x1:p.x0-3,x2:p.x0,y1:tk[1],y2:tk[1],stroke:'#888'},pG);txt(p.x0-5,tk[1]+4,p.lab[i],{'font-size':11,'text-anchor':'end'},pG);});
  p.xs.forEach(x=>mk('line',{x1:x,x2:x,y1:p.yBot,y2:p.yBot+3,stroke:'#888'},pG));
  mk('polyline',{points:p.v.map((v,i)=>p.xs[i]+','+Y(v).toFixed(1)).join(' '),fill:'none',stroke:'#222','stroke-width':1},pG);
  p.v.forEach((v,i)=>{const x=p.xs[i],c=gCol[i];
    mk('path',{d:`M${x},${Y(v+p.e[i])} V${Y(v-p.e[i])} M${x-3.5},${Y(v+p.e[i])} h7 M${x-3.5},${Y(v-p.e[i])} h7`,stroke:c,'stroke-width':1.3,fill:'none'},pG);
    const d=mk('circle',{cx:x,cy:Y(v),r:4.3,fill:c},pG);
    if(p.sig[i]) txt(x,Y(v+p.e[i])-7,p.sig[i],{'font-size':9,'text-anchor':'middle'},pG);
  });
  const lx=p.xs;
  txt(lx[0]+4,844,"Roam",{'font-size':12,'font-weight':'bold',fill:OR,'text-anchor':'end',transform:`rotate(-50 ${lx[0]+4} 844)`},pG);
  txt(lx[1]+4,844,"Transition",{'font-size':12,'font-weight':'bold',fill:'#3c8f3c','text-anchor':'end',transform:`rotate(-50 ${lx[1]+4} 844)`},pG);
  txt(lx[1]+14,852,"(NSM off)",{'font-size':12,'font-weight':'bold',fill:'#3c8f3c','text-anchor':'end',transform:`rotate(-50 ${lx[1]+14} 852)`},pG);
  txt(lx[2]+4,844,"Dwell",{'font-size':12,'font-weight':'bold',fill:BL,'text-anchor':'end',transform:`rotate(-50 ${lx[2]+4} 844)`},pG);
});
</script>
</body></html>
